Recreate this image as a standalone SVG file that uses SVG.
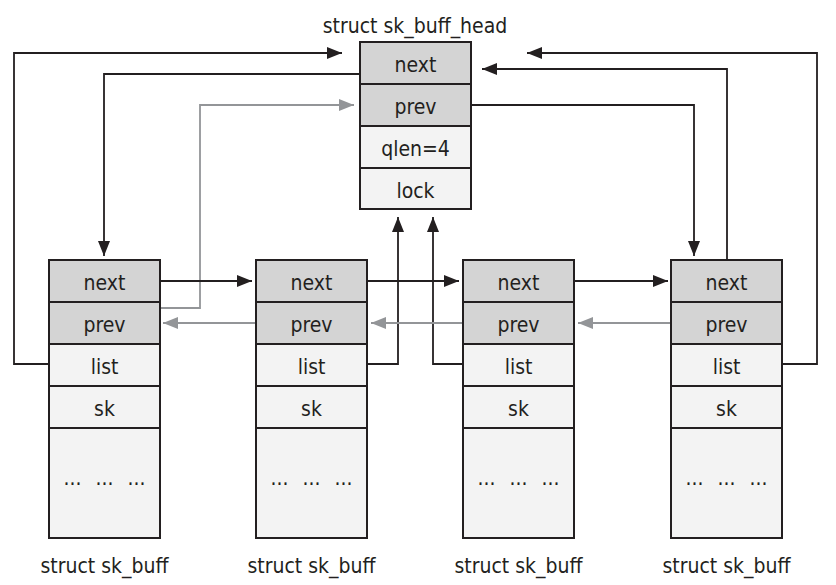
<svg xmlns="http://www.w3.org/2000/svg" width="836" height="585" viewBox="0 0 836 585">
<style>
text{font-family:"Liberation Sans Narrow","DejaVu Sans Condensed","Liberation Sans",sans-serif;font-size:21px;fill:#231f20;text-anchor:middle}
.d{fill:#d4d4d4;stroke:#231f20;stroke-width:2}
.l{fill:#f3f3f3;stroke:#231f20;stroke-width:2}
.k{fill:none;stroke:#231f20;stroke-width:1.8}
.g{fill:none;stroke:#939598;stroke-width:1.8}
.dots{word-spacing:8px}
</style>
<defs>
<marker id="ak" markerUnits="userSpaceOnUse" markerWidth="16" markerHeight="12" refX="15" refY="6" orient="auto"><path d="M0,0 L15,6 L0,12 z" fill="#231f20"/></marker>
<marker id="ag" markerUnits="userSpaceOnUse" markerWidth="16" markerHeight="12" refX="15" refY="6" orient="auto"><path d="M0,0 L15,6 L0,12 z" fill="#939598"/></marker>
</defs>
<rect width="836" height="585" fill="#fff"/>
<g id="connectors">
<path class="k" d="M49,364 H14 V53 H342" marker-end="url(#ak)"/>
<path class="k" d="M360,74 H104 V256" marker-end="url(#ak)"/>
<path class="g" d="M160,308 H200 V105 H354" marker-end="url(#ag)"/>
<path class="k" d="M160,281 H252" marker-end="url(#ak)"/>
<path class="g" d="M256,323 H163" marker-end="url(#ag)"/>
<path class="k" d="M367,364 H398 V217" marker-end="url(#ak)"/>
<path class="k" d="M463,364 H433 V217" marker-end="url(#ak)"/>
<path class="k" d="M367,281 H459" marker-end="url(#ak)"/>
<path class="g" d="M463,323 H371" marker-end="url(#ag)"/>
<path class="k" d="M574,281 H668" marker-end="url(#ak)"/>
<path class="g" d="M672,323 H578" marker-end="url(#ag)"/>
<path class="k" d="M471,105 H694 V256" marker-end="url(#ak)"/>
<path class="k" d="M727,260 V69 H482" marker-end="url(#ak)"/>
<path class="k" d="M782,364 H817 V53 H527" marker-end="url(#ak)"/>
</g>
<g id="head">
<text x="415" y="33">struct sk_buff_head</text>
<rect class="d" x="360" y="42" width="111" height="42"/>
<rect class="d" x="360" y="84" width="111" height="42"/>
<rect class="l" x="360" y="126" width="111" height="42"/>
<rect class="l" x="360" y="168" width="111" height="41"/>
<text x="415.5" y="72">next</text>
<text x="415.5" y="114">prev</text>
<text x="415.5" y="156">qlen=4</text>
<text x="415.5" y="198">lock</text>
</g>
<g id="skb1" transform="translate(49,0)">
<rect class="d" x="0" y="260" width="111" height="42"/>
<rect class="d" x="0" y="302" width="111" height="42"/>
<rect class="l" x="0" y="344" width="111" height="42"/>
<rect class="l" x="0" y="386" width="111" height="42"/>
<rect class="l" x="0" y="428" width="111" height="110"/>
<text x="55.5" y="290">next</text>
<text x="55.5" y="332">prev</text>
<text x="55.5" y="374">list</text>
<text x="55.5" y="416">sk</text>
<text class="dots" x="55.5" y="485">... ... ...</text>
<text x="55.5" y="573">struct sk_buff</text>
</g>
<g id="skb2" transform="translate(256,0)">
<rect class="d" x="0" y="260" width="111" height="42"/>
<rect class="d" x="0" y="302" width="111" height="42"/>
<rect class="l" x="0" y="344" width="111" height="42"/>
<rect class="l" x="0" y="386" width="111" height="42"/>
<rect class="l" x="0" y="428" width="111" height="110"/>
<text x="55.5" y="290">next</text>
<text x="55.5" y="332">prev</text>
<text x="55.5" y="374">list</text>
<text x="55.5" y="416">sk</text>
<text class="dots" x="55.5" y="485">... ... ...</text>
<text x="55.5" y="573">struct sk_buff</text>
</g>
<g id="skb3" transform="translate(463,0)">
<rect class="d" x="0" y="260" width="111" height="42"/>
<rect class="d" x="0" y="302" width="111" height="42"/>
<rect class="l" x="0" y="344" width="111" height="42"/>
<rect class="l" x="0" y="386" width="111" height="42"/>
<rect class="l" x="0" y="428" width="111" height="110"/>
<text x="55.5" y="290">next</text>
<text x="55.5" y="332">prev</text>
<text x="55.5" y="374">list</text>
<text x="55.5" y="416">sk</text>
<text class="dots" x="55.5" y="485">... ... ...</text>
<text x="55.5" y="573">struct sk_buff</text>
</g>
<g id="skb4" transform="translate(671,0)">
<rect class="d" x="0" y="260" width="111" height="42"/>
<rect class="d" x="0" y="302" width="111" height="42"/>
<rect class="l" x="0" y="344" width="111" height="42"/>
<rect class="l" x="0" y="386" width="111" height="42"/>
<rect class="l" x="0" y="428" width="111" height="110"/>
<text x="55.5" y="290">next</text>
<text x="55.5" y="332">prev</text>
<text x="55.5" y="374">list</text>
<text x="55.5" y="416">sk</text>
<text class="dots" x="55.5" y="485">... ... ...</text>
<text x="55.5" y="573">struct sk_buff</text>
</g>
</svg>
